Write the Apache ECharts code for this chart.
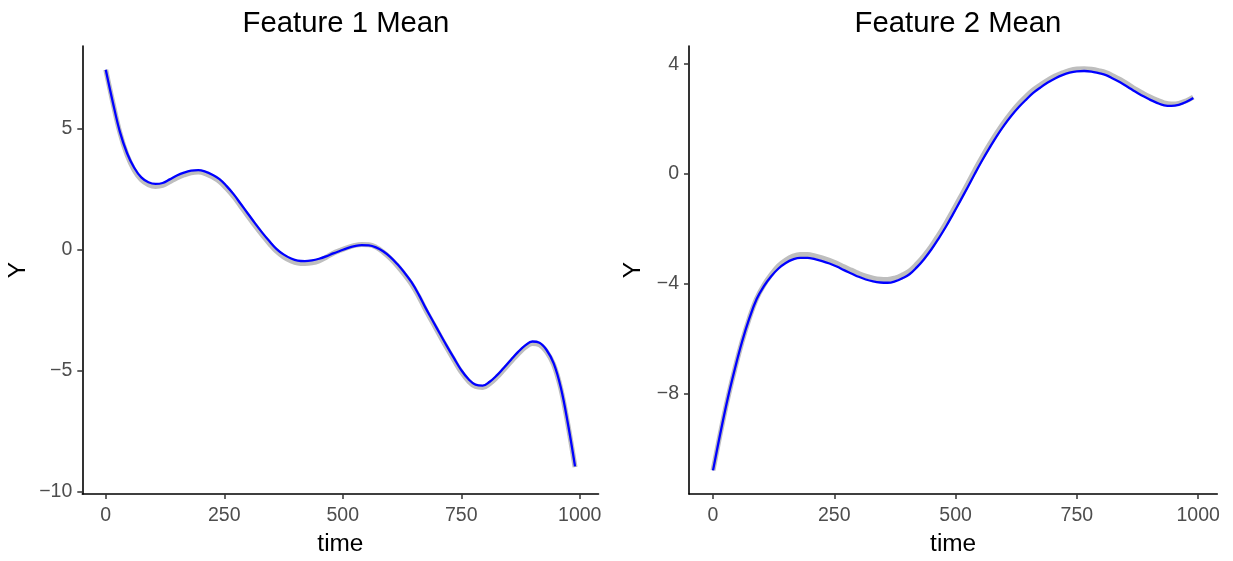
<!DOCTYPE html>
<html>
<head>
<meta charset="utf-8">
<script src="https://cdn.jsdelivr.net/npm/echarts@6/dist/echarts.min.js"></script>
<style>html,body{margin:0;padding:0;background:#fff;}#c{width:1233px;height:561px;}</style>
</head>
<body>
<div id="c"></div>
<script>
// time grid (shared by both panels)
const time = [0,15,30,45,60,75,90,105,120,135,150,165,180,195,210,225,240,255,270,285,300,315,330,345,360,375,390,405,420,435,450,465,480,495,510,525,540,555,570,585,600,615,630,645,660,675,690,705,720,735,750,765,780,795,810,825,840,855,870,885,900,915,930,945,960,975,990];

// Feature 1: fitted mean (blue) and reference ribbon centre (grey)
const f1Mean = [7.43,6.08,4.85,3.98,3.38,2.98,2.78,2.71,2.75,2.9,3.06,3.18,3.26,3.28,3.22,3.09,2.91,2.62,2.28,1.88,1.48,1.08,0.7,0.35,0.03,-0.2,-0.36,-0.46,-0.48,-0.45,-0.38,-0.28,-0.16,-0.05,0.06,0.14,0.18,0.17,0.09,-0.07,-0.3,-0.6,-0.95,-1.35,-1.85,-2.42,-2.95,-3.48,-4.0,-4.5,-4.98,-5.35,-5.58,-5.62,-5.46,-5.2,-4.88,-4.55,-4.23,-3.96,-3.8,-3.85,-4.15,-4.7,-5.7,-7.2,-8.96];
const f1Band = [7.43,6.07,4.82,3.9,3.28,2.88,2.68,2.61,2.65,2.8,2.96,3.08,3.17,3.2,3.14,3.0,2.81,2.52,2.18,1.78,1.38,0.98,0.6,0.25,-0.07,-0.3,-0.46,-0.56,-0.58,-0.55,-0.47,-0.32,-0.15,-0.03,0.08,0.17,0.21,0.2,0.1,-0.1,-0.36,-0.67,-1.03,-1.43,-1.93,-2.5,-3.03,-3.56,-4.08,-4.58,-5.06,-5.43,-5.66,-5.7,-5.54,-5.28,-4.96,-4.63,-4.31,-4.04,-3.88,-3.93,-4.22,-4.76,-5.75,-7.24,-8.99];

// Feature 2
const f2Mean = [-10.79,-9.45,-8.2,-7.1,-6.1,-5.25,-4.55,-4.08,-3.72,-3.44,-3.24,-3.11,-3.05,-3.05,-3.1,-3.17,-3.26,-3.37,-3.5,-3.62,-3.74,-3.84,-3.91,-3.95,-3.96,-3.91,-3.8,-3.65,-3.4,-3.1,-2.75,-2.35,-1.92,-1.45,-0.97,-0.48,0.02,0.5,0.95,1.38,1.77,2.12,2.43,2.7,2.95,3.15,3.33,3.48,3.6,3.69,3.74,3.75,3.73,3.67,3.6,3.47,3.33,3.17,3.0,2.85,2.71,2.59,2.5,2.48,2.52,2.62,2.77];
const f2Band = [-10.79,-9.45,-8.2,-7.1,-6.1,-5.24,-4.53,-4.04,-3.66,-3.34,-3.13,-2.99,-2.93,-2.93,-2.98,-3.05,-3.14,-3.25,-3.38,-3.5,-3.62,-3.72,-3.79,-3.83,-3.84,-3.79,-3.68,-3.53,-3.28,-2.98,-2.63,-2.22,-1.79,-1.32,-0.84,-0.35,0.15,0.63,1.08,1.5,1.89,2.24,2.55,2.82,3.06,3.25,3.42,3.57,3.68,3.77,3.82,3.83,3.81,3.76,3.69,3.57,3.43,3.27,3.1,2.95,2.81,2.69,2.59,2.55,2.57,2.66,2.8];

// tick values
const xTicks = [0,250,500,750,1000];
const y1Ticks = [-10,-5,0,5];
const y2Ticks = [-8,-4,0,4];
const titles = ['Feature 1 Mean','Feature 2 Mean'];

const FONT = '"Liberation Sans", Arial, Helvetica, sans-serif';
const pair = (xs, ys) => xs.map((x,i)=>[x, ys[i]]);
const fmt = v => String(v).replace('-', '\u2212');

function xAxis(gi){
  return {
    type:'value', gridIndex:gi, min:-49.5, max:1039.5,
    name:'time', nameLocation:'middle', nameGap:38,
    nameTextStyle:{fontFamily:FONT, fontSize:24.4, color:'#000'},
    axisLine:{show:true, onZero:false, lineStyle:{color:'#000', width:1.6}},
    axisTick:{show:true, length:5, customValues:xTicks, lineStyle:{color:'#333', width:1.5}},
    axisLabel:{customValues:xTicks, formatter:fmt, margin:12, fontFamily:FONT, fontSize:19.5, color:'#4D4D4D'},
    splitLine:{show:false}
  };
}
function yAxis(gi, min, max, ticks, gap){
  return {
    type:'value', gridIndex:gi, min:min, max:max,
    name:'Y', nameLocation:'middle', nameGap:gap, nameRotate:90,
    nameTextStyle:{fontFamily:FONT, fontSize:24.4, color:'#000'},
    axisLine:{show:true, onZero:false, lineStyle:{color:'#000', width:1.6}},
    axisTick:{show:true, length:5, customValues:ticks, lineStyle:{color:'#333', width:1.5}},
    axisLabel:{customValues:ticks, formatter:fmt, margin:10, fontFamily:FONT, fontSize:19.5, color:'#4D4D4D'},
    splitLine:{show:false}
  };
}
function band(gi, ys){
  return {type:'line', xAxisIndex:gi, yAxisIndex:gi, data:pair(time, ys), smooth:0.4, showSymbol:false,
    lineStyle:{color:'#BEBEBE', width:5}, z:2, silent:true};
}
function mean(gi, ys){
  return {type:'line', xAxisIndex:gi, yAxisIndex:gi, data:pair(time, ys), smooth:0.4, showSymbol:false,
    lineStyle:{color:'#0000FF', width:2.3}, z:3, silent:true};
}

const chart = echarts.init(document.getElementById('c'), null, {renderer:'canvas'});
chart.setOption({
  backgroundColor:'#fff',
  animation:false,
  title:[
    {text:titles[0], left:341, top:4, textAlign:'center', textStyle:{fontFamily:FONT, fontSize:29.3, fontWeight:'normal', color:'#000'}},
    {text:titles[1], left:953, top:4, textAlign:'center', textStyle:{fontFamily:FONT, fontSize:29.3, fontWeight:'normal', color:'#000'}}
  ],
  grid:[
    {left:82.3, right:634.5, top:46, bottom:63.3},
    {left:689, right:15.7, top:46, bottom:63.3}
  ],
  xAxis:[xAxis(0), xAxis(1)],
  yAxis:[yAxis(0,-10.1,8.41,y1Ticks,52), yAxis(1,-11.65,4.66,y2Ticks,44)],
  series:[band(0,f1Band), mean(0,f1Mean), band(1,f2Band), mean(1,f2Mean)]
});
</script>
</body>
</html>
